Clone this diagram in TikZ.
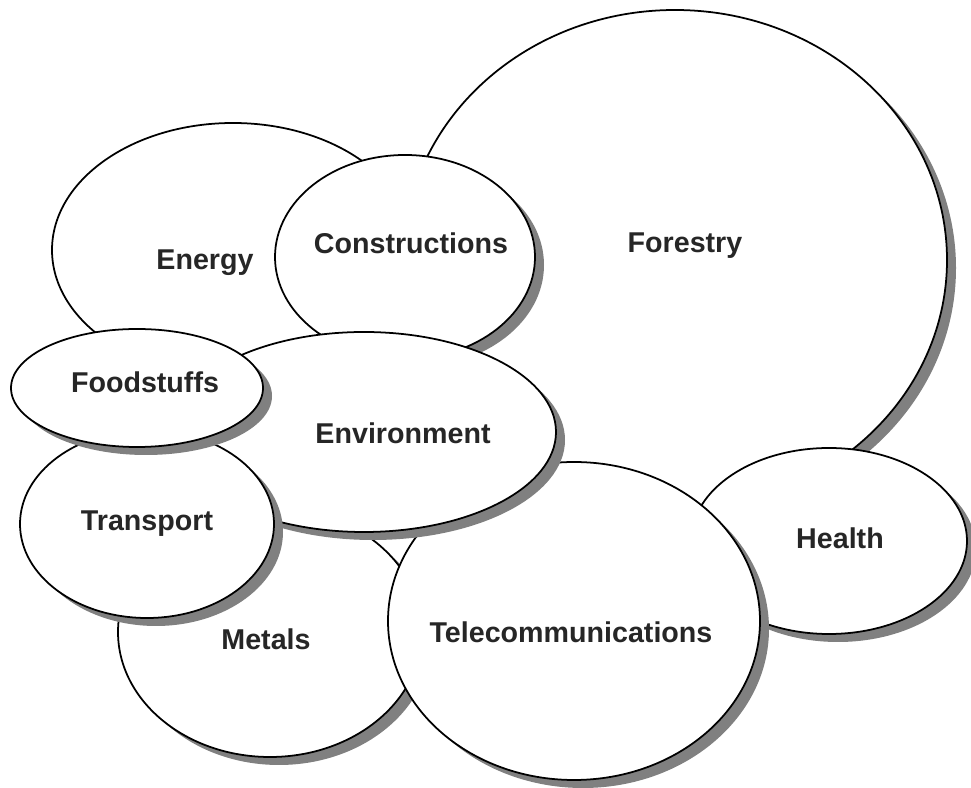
\documentclass[tikz,border=0pt]{standalone}
\usepackage{fontspec}
\setmainfont{Liberation Sans}
\usetikzlibrary{shapes.geometric,shadows}

\begin{document}
\begin{tikzpicture}[x=1cm,y=1cm,
  bubble/.style={draw,ellipse,fill=white,line width=1pt,inner sep=0pt,
    drop shadow={shadow xshift=.18cm,shadow yshift=-.16cm,fill=black!50,opacity=1}},
  caption/.style={font=\fontsize{16.3}{19}\selectfont\bfseries,text=black!85,anchor=base,inner sep=0pt}]
  \useasboundingbox (0,0) rectangle (19.42,15.76);
  % bubbles, back to front
  \node[bubble,minimum width=10.88cm,minimum height=10.00cm] (forestry) at (13.50,10.56) {};
  \node[bubble,minimum width=7.24cm,minimum height=5.08cm] (energy) at (4.66,10.76) {};
  \node[bubble,minimum width=5.20cm,minimum height=4.08cm] (constructions) at (8.10,10.62) {};
  \node[bubble,minimum width=6.08cm,minimum height=5.00cm] (metals) at (5.40,3.12) {};
  \node[bubble,minimum width=5.52cm,minimum height=3.72cm] (health) at (16.58,4.94) {};
  \node[bubble,minimum width=7.44cm,minimum height=6.36cm] (telecom) at (11.48,3.34) {};
  \node[bubble,minimum width=7.68cm,minimum height=4.00cm] (environment) at (7.28,7.12) {};
  \node[bubble,minimum width=5.08cm,minimum height=3.76cm] (transport) at (2.94,5.28) {};
  \node[bubble,minimum width=5.04cm,minimum height=2.36cm] (foodstuffs) at (2.74,8.00) {};
  % names
  \node[caption] (forestry-txt) at (13.70,10.70) {Forestry};
  \node[caption] (energy-txt) at (4.10,10.36) {Energy};
  \node[caption] (constructions-txt) at (8.22,10.68) {Constructions};
  \node[caption] (foodstuffs-txt) at (2.90,7.90) {Foodstuffs};
  \node[caption] (environment-txt) at (8.06,6.88) {Environment};
  \node[caption] (transport-txt) at (2.94,5.14) {Transport};
  \node[caption] (health-txt) at (16.80,4.78) {Health};
  \node[caption] (metals-txt) at (5.32,2.76) {Metals};
  \node[caption] (telecom-txt) at (11.42,2.90) {Telecommunications};
\end{tikzpicture}
\end{document}
